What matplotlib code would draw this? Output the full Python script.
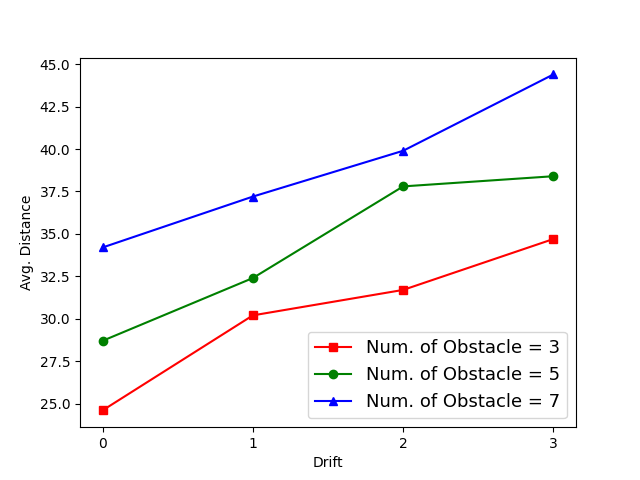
import matplotlib
matplotlib.use("Agg")
import matplotlib.pyplot as plt

drift = [0, 1, 2, 3]
obs3 = [24.6, 30.2, 31.7, 34.7]
obs5 = [28.7, 32.4, 37.8, 38.4]
obs7 = [34.2, 37.2, 39.9, 44.4]
labels = ["Num. of Obstacle = 3", "Num. of Obstacle = 5", "Num. of Obstacle = 7"]

fig, ax = plt.subplots(figsize=(6.4, 4.8), dpi=100)
ax.plot(drift, obs3, 'r-s', label=labels[0])
ax.plot(drift, obs5, 'g-o', label=labels[1])
ax.plot(drift, obs7, 'b-^', label=labels[2])
ax.set_xticks(drift)
ax.set_xlabel("Drift")
ax.set_ylabel("Avg. Distance")
ax.legend(loc="lower right", fontsize=13)
fig.savefig("out.png")
